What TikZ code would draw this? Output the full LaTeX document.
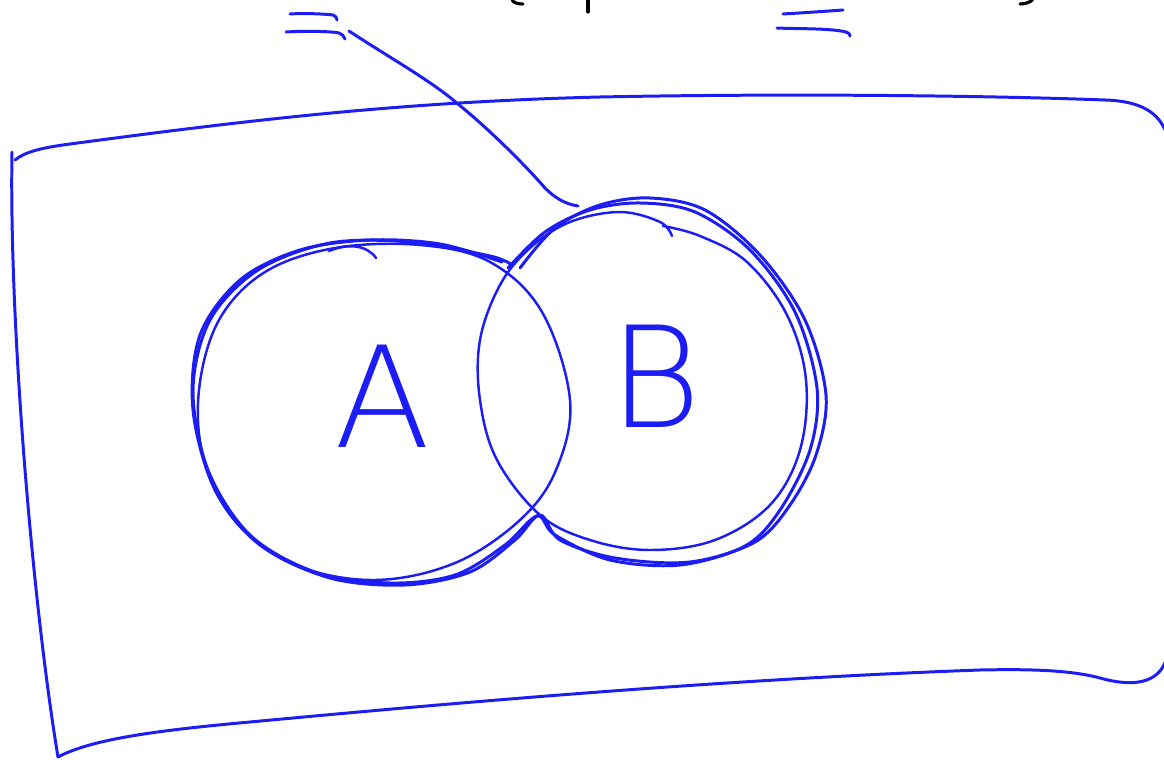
\documentclass[tikz,border=0pt]{standalone}
\usepackage{fontspec}
\newfontfamily\thinfont{DejaVu Sans ExtraLight}
\definecolor{ink}{RGB}{28,28,245}
\begin{document}
\begin{tikzpicture}[x=0.02cm,y=-0.02cm,
  pen/.style={draw=ink,line width=1.7pt,line cap=round,line join=round},
  thinpen/.style={draw=ink,line width=1.4pt,line cap=round,line join=round},
  blackpen/.style={draw=black,line width=1.8pt,line cap=round},
  letter/.style={text=ink,font=\thinfont\fontsize{80}{80}\selectfont,inner sep=0pt}]
\useasboundingbox (0,0) rectangle (1164,760);
% black cut-off marks at the top
\draw[blackpen] (512,0) .. controls (514,3) and (518,4) .. (523,4);
\draw[blackpen] (588,0) -- (588,12);
\draw[blackpen] (1020,4) .. controls (1026,4) and (1031,2) .. (1033,-1);
% sheet
\draw[pen] (12,152) .. controls (9,320) and (32,600) .. (58,757);
\draw[pen] (15,160) .. controls (25,152) and (40,148) .. (70,144)
  .. controls (250,120) and (400,102) .. (600,97)
  .. controls (800,93) and (1000,96) .. (1105,100)
  .. controls (1140,101) and (1158,112) .. (1166,132) -- (1166,660);
\draw[pen] (1166,660) .. controls (1158,684) and (1132,687) .. (1100,678)
  .. controls (1070,670) and (1030,669) .. (980,670)
  .. controls (700,680) and (400,708) .. (250,722)
  .. controls (150,731) and (90,740) .. (58,757);
% equal signs
\draw[pen] (290,14) .. controls (305,13) and (325,14) .. (333,15) .. controls (336,16) and (337,18) .. (337,20);
\draw[pen] (286,32) .. controls (300,31) and (330,31) .. (339,33) .. controls (342,34) and (344,36) .. (345,39);
\draw[pen] (783,14) .. controls (800,13) and (830,11) .. (843,10);
\draw[pen] (777,28) .. controls (795,29) and (830,28) .. (846,32) .. controls (849,33) and (850,34) .. (850,36);
% connector
\coordinate (eqL) at (349,31);
\coordinate (Btop) at (578,206);
\draw[pen] (eqL) .. controls (390,58) and (430,80) .. (458,104)
  .. controls (490,130) and (525,165) .. (545,188)
  .. controls (555,198) and (565,204) .. (Btop);
% clean circle A
\draw[thinpen] plot[smooth cycle,tension=0.6] coordinates {(570,400) (556,470) (520,520) (455,563) (375,580) (295,565) (236,522) (204,460) (199,390) (219,320) (265,272) (335,248) (420,245) (490,262) (542,312)};
\draw[thinpen] (329,251) .. controls (348,243) and (367,245) .. (376,258);
% clean circle B
\draw[thinpen] plot[smooth,tension=0.6] coordinates {(672,236) (660,222) (620,212) (570,222) (530,248) (500,285) (480,340) (480,400) (497,460) (540,515) (590,540) (650,550) (715,540) (770,505) (800,450) (806,380) (787,315) (747,262) (700,236) (663,226)};
% union outlines
\draw[pen] plot[smooth,tension=0.55] coordinates {(520,268) (555,228) (600,205) (650,198) (705,210) (760,255) (805,320) (826,395) (816,455) (790,505) (755,542) (690,562) (615,558) (560,540) (540,515) (515,540) (470,572) (405,585) (330,578) (260,545) (215,490) (193,410) (200,335) (240,280) (300,250) (370,240) (440,244) (502,262)};
\draw[pen] plot[smooth,tension=0.55] coordinates {(508,268) (545,232) (590,210) (640,203) (695,212) (750,250) (795,312) (817,388) (810,450) (780,510) (745,546) (680,565) (610,560) (555,535) (537,516) (505,545) (455,575) (390,583) (315,572) (250,535) (208,470) (193,390) (210,320) (258,270) (330,243) (410,242) (490,256) (512,265)};
% labels
\node[letter] (A) at (383,396) {A};
\node[letter] (B) at (656,376) {B};
\end{tikzpicture}
\end{document}
